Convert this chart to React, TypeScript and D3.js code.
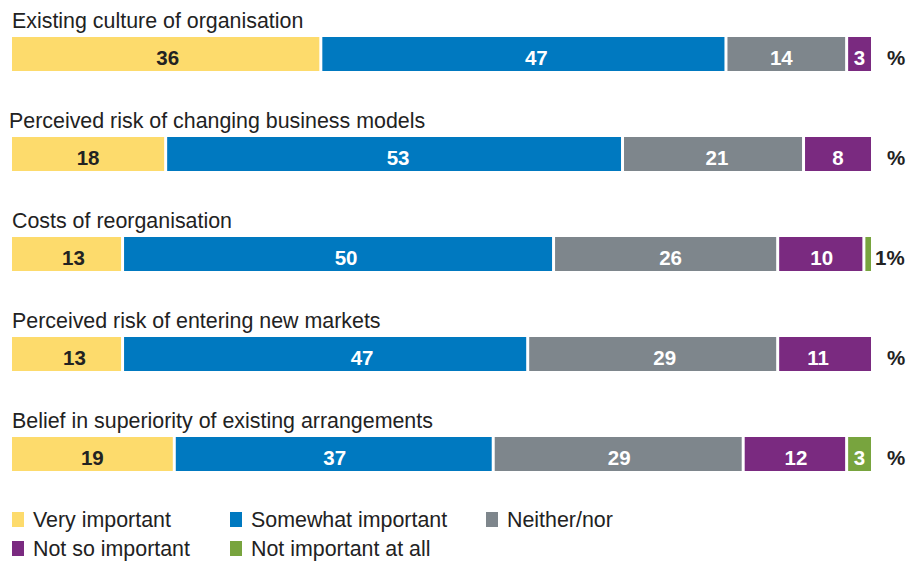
import React from 'react';
import * as d3 from 'd3';

// Survey rows (percent of respondents)
const categories = [
    'Existing culture of organisation',
    'Perceived risk of changing business models',
    'Costs of reorganisation',
    'Perceived risk of entering new markets',
    'Belief in superiority of existing arrangements',
];
const veryImportant = [36, 18, 13, 13, 19];
const somewhatImportant = [47, 53, 50, 47, 37];
const neitherNor = [14, 21, 26, 29, 29];
const notSoImportant = [3, 8, 10, 11, 12];
const notImportantAtAll = [0, 0, 1, 0, 3];

const seriesNames = ['Very important', 'Somewhat important', 'Neither/nor', 'Not so important', 'Not important at all'];
const seriesColors = ['#FDDB6C', '#0079C0', '#7E868C', '#7A2A80', '#78A43E'];

// labels in the original are not quite centred - small hand nudges (px)
const labelNudge = [
    [2, 13, -5, 0, 0],
    [0, 4, 4, 0, 0],
    [7, 8, 5, 1, 0],
    [8, 37, 12, -7, 0],
    [0, 1, 1, 1, 0],
];

const width = 906, height = 562;
const font = 'Helvetica, "Liberation Sans", Arial, sans-serif';

export default function App() {
    const seriesValues = [veryImportant, somewhatImportant, neitherNor, notSoImportant, notImportantAtAll];

    const x = d3.scaleLinear().domain([0, 100]).range([12, 874]);
    const rowY = d3.scaleBand().domain(categories).range([0, 500]);
    const barTop = 37, barH = 34, gap = 3;

    const rows = categories.map((cat, i) => {
        const vals = seriesValues.map(s => s[i]);
        const stack = d3.cumsum(vals);
        const y0 = (rowY(cat) as number) + barTop;
        const small = vals.findIndex(v => v > 0 && v < 2);
        return {cat, vals, stack, y0, i, small};
    });

    const legendX = [12, 230, 486];
    const legendY = [519, 548];

    return (
        <svg width={width} height={height} style={{position: 'absolute', left: 0, top: 0}} fontFamily={font}>
            <rect width={width} height={height} fill="#fff"/>
            {rows.map(r => (
                <g key={r.cat}>
                    <text x={r.i === 1 ? 9 : 12} y={r.y0 - 9} fontSize={21.4} fill="#222">{r.cat}</text>
                    {r.vals.map((v, j) => {
                        if (v <= 0) return null;
                        const start = x(r.stack[j] - v);
                        const end = x(r.stack[j]) - gap;
                        const showLabel = v >= 2;
                        return (
                            <g key={j}>
                                <rect x={start} y={r.y0} width={end - start} height={barH} fill={seriesColors[j]}/>
                                {showLabel && (
                                    <text x={(start + end) / 2 + labelNudge[r.i][j]} y={r.y0 + 28} textAnchor="middle"
                                          fontSize={20.5} fontWeight="bold" fill={j === 0 ? '#222' : '#fff'}>{v}</text>
                                )}
                            </g>
                        );
                    })}
                    <text x={r.small >= 0 ? 875 : 887} y={r.y0 + 28} fontSize={20.5} fontWeight="bold" fill="#222">
                        {r.small >= 0 ? `${r.vals[r.small]}%` : '%'}
                    </text>
                </g>
            ))}
            {seriesNames.map((name, k) => {
                const lx = legendX[k % 3];
                const ly = legendY[Math.floor(k / 3)];
                return (
                    <g key={name}>
                        <rect x={lx} y={ly - 7} width={12} height={15} fill={seriesColors[k]}/>
                        <text x={lx + 21} y={ly + 8} fontSize={21.4} fill="#222">{name}</text>
                    </g>
                );
            })}
        </svg>
    );
}
